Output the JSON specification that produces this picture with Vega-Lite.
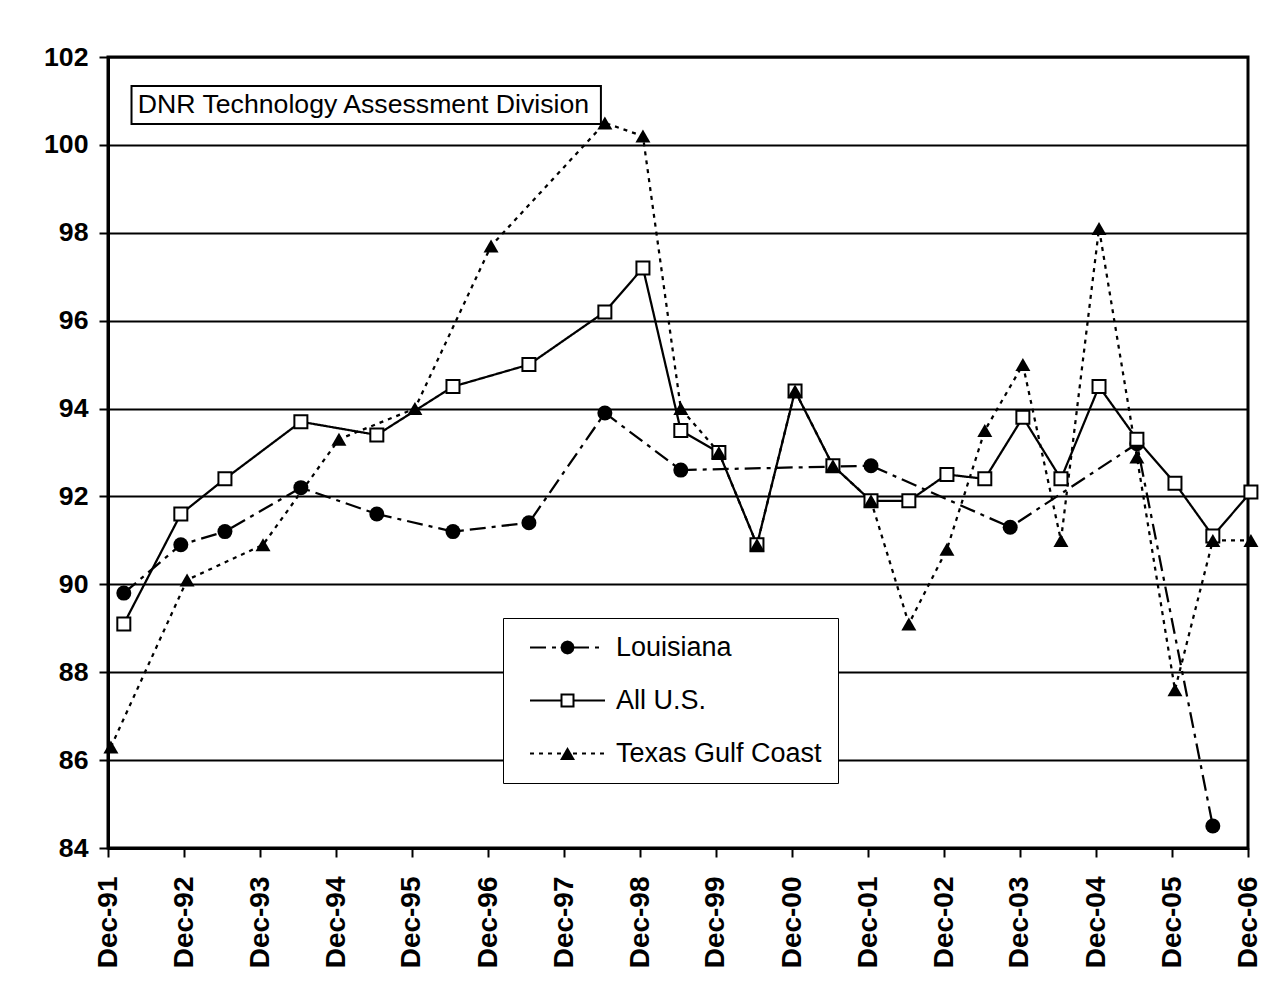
{
  "$schema": "https://vega.github.io/schema/vega-lite/v6.json",
  "width": 1140,
  "height": 791,
  "autosize": {"type": "none"},
  "padding": {"left": 108, "top": 57, "right": 37, "bottom": 145},
  "background": "white",
  "config": {
    "view": {"stroke": "black", "strokeWidth": 3},
    "font": "Liberation Sans",
    "legend": {
      "fillColor": "white",
      "strokeColor": "black",
      "padding": 16,
      "symbolSize": 400,
      "symbolOffset": 35,
      "labelOffset": 35,
      "labelFont": "Liberation Sans",
      "labelFontSize": 27,
      "labelColor": "black",
      "labelLimit": 400,
      "rowPadding": 25,
      "symbolFillColor": "black",
      "symbolStrokeColor": "black",
      "symbolStrokeWidth": 2,
      "symbolOpacity": 1
    }
  },
  "datasets": {
    "main": [
      {"series": "Louisiana", "date": "1992-02-15", "value": 89.8},
      {"series": "Louisiana", "date": "1992-11-15", "value": 90.9},
      {"series": "Louisiana", "date": "1993-06-15", "value": 91.2},
      {"series": "Louisiana", "date": "1994-06-15", "value": 92.2},
      {"series": "Louisiana", "date": "1995-06-15", "value": 91.6},
      {"series": "Louisiana", "date": "1996-06-15", "value": 91.2},
      {"series": "Louisiana", "date": "1997-06-15", "value": 91.4},
      {"series": "Louisiana", "date": "1998-06-15", "value": 93.9},
      {"series": "Louisiana", "date": "1999-06-15", "value": 92.6},
      {"series": "Louisiana", "date": "2001-12-15", "value": 92.7},
      {"series": "Louisiana", "date": "2003-10-15", "value": 91.3},
      {"series": "Louisiana", "date": "2005-06-15", "value": 93.2},
      {"series": "Louisiana", "date": "2006-06-15", "value": 84.5},
      {"series": "All U.S.", "date": "1992-02-15", "value": 89.1},
      {"series": "All U.S.", "date": "1992-11-15", "value": 91.6},
      {"series": "All U.S.", "date": "1993-06-15", "value": 92.4},
      {"series": "All U.S.", "date": "1994-06-15", "value": 93.7},
      {"series": "All U.S.", "date": "1995-06-15", "value": 93.4},
      {"series": "All U.S.", "date": "1996-06-15", "value": 94.5},
      {"series": "All U.S.", "date": "1997-06-15", "value": 95.0},
      {"series": "All U.S.", "date": "1998-06-15", "value": 96.2},
      {"series": "All U.S.", "date": "1998-12-15", "value": 97.2},
      {"series": "All U.S.", "date": "1999-06-15", "value": 93.5},
      {"series": "All U.S.", "date": "1999-12-15", "value": 93.0},
      {"series": "All U.S.", "date": "2000-06-15", "value": 90.9},
      {"series": "All U.S.", "date": "2000-12-15", "value": 94.4},
      {"series": "All U.S.", "date": "2001-06-15", "value": 92.7},
      {"series": "All U.S.", "date": "2001-12-15", "value": 91.9},
      {"series": "All U.S.", "date": "2002-06-15", "value": 91.9},
      {"series": "All U.S.", "date": "2002-12-15", "value": 92.5},
      {"series": "All U.S.", "date": "2003-06-15", "value": 92.4},
      {"series": "All U.S.", "date": "2003-12-15", "value": 93.8},
      {"series": "All U.S.", "date": "2004-06-15", "value": 92.4},
      {"series": "All U.S.", "date": "2004-12-15", "value": 94.5},
      {"series": "All U.S.", "date": "2005-06-15", "value": 93.3},
      {"series": "All U.S.", "date": "2005-12-15", "value": 92.3},
      {"series": "All U.S.", "date": "2006-06-15", "value": 91.1},
      {"series": "All U.S.", "date": "2006-12-15", "value": 92.1},
      {"series": "Texas Gulf Coast", "date": "1991-12-15", "value": 86.3},
      {"series": "Texas Gulf Coast", "date": "1992-12-15", "value": 90.1},
      {"series": "Texas Gulf Coast", "date": "1993-12-15", "value": 90.9},
      {"series": "Texas Gulf Coast", "date": "1994-12-15", "value": 93.3},
      {"series": "Texas Gulf Coast", "date": "1995-12-15", "value": 94.0},
      {"series": "Texas Gulf Coast", "date": "1996-12-15", "value": 97.7},
      {"series": "Texas Gulf Coast", "date": "1998-06-15", "value": 100.5},
      {"series": "Texas Gulf Coast", "date": "1998-12-15", "value": 100.2},
      {"series": "Texas Gulf Coast", "date": "1999-06-15", "value": 94.0},
      {"series": "Texas Gulf Coast", "date": "1999-12-15", "value": 93.0},
      {"series": "Texas Gulf Coast", "date": "2000-06-15", "value": 90.9},
      {"series": "Texas Gulf Coast", "date": "2000-12-15", "value": 94.4},
      {"series": "Texas Gulf Coast", "date": "2001-06-15", "value": 92.7},
      {"series": "Texas Gulf Coast", "date": "2001-12-15", "value": 91.9},
      {"series": "Texas Gulf Coast", "date": "2002-06-15", "value": 89.1},
      {"series": "Texas Gulf Coast", "date": "2002-12-15", "value": 90.8},
      {"series": "Texas Gulf Coast", "date": "2003-06-15", "value": 93.5},
      {"series": "Texas Gulf Coast", "date": "2003-12-15", "value": 95.0},
      {"series": "Texas Gulf Coast", "date": "2004-06-15", "value": 91.0},
      {"series": "Texas Gulf Coast", "date": "2004-12-15", "value": 98.1},
      {"series": "Texas Gulf Coast", "date": "2005-06-15", "value": 92.9},
      {"series": "Texas Gulf Coast", "date": "2005-12-15", "value": 87.6},
      {"series": "Texas Gulf Coast", "date": "2006-06-15", "value": 91.0},
      {"series": "Texas Gulf Coast", "date": "2006-12-15", "value": 91.0}
    ],
    "note": [
      {"note": "DNR Technology Assessment Division"}
    ]
  },
  "layer": [
    {
      "data": {"name": "note"},
      "mark": {"type": "rect", "fill": "white", "stroke": "black", "strokeWidth": 2},
      "encoding": {
        "x": {"datum": {"year": 1992, "month": 3, "date": 23, "utc": true}, "type": "temporal", "scale": {"type": "utc"}},
        "x2": {"datum": {"year": 1998, "month": 5, "date": 27, "utc": true}},
        "y": {"datum": 101.34, "type": "quantitative"},
        "y2": {"datum": 100.475}
      }
    },
    {
      "data": {"name": "note"},
      "mark": {"type": "text", "align": "left", "baseline": "middle", "font": "Liberation Sans", "fontSize": 26.67, "color": "black"},
      "encoding": {
        "x": {"datum": {"year": 1992, "month": 4, "date": 22, "utc": true}, "type": "temporal", "scale": {"type": "utc"}},
        "y": {"datum": 100.91, "type": "quantitative"},
        "text": {"field": "note", "type": "nominal"}
      }
    },
    {
      "data": {"name": "main"},
      "encoding": {
        "x": {
          "field": "date",
          "type": "temporal",
          "title": null,
          "scale": {
            "type": "utc",
            "domain": [
              {"year": 1991, "month": 12, "date": 1, "utc": true},
              {"year": 2006, "month": 12, "date": 1, "utc": true}
            ]
          },
          "axis": {
            "values": [
              {"year": 1991, "month": 12, "date": 1, "utc": true},
              {"year": 1992, "month": 12, "date": 1, "utc": true},
              {"year": 1993, "month": 12, "date": 1, "utc": true},
              {"year": 1994, "month": 12, "date": 1, "utc": true},
              {"year": 1995, "month": 12, "date": 1, "utc": true},
              {"year": 1996, "month": 12, "date": 1, "utc": true},
              {"year": 1997, "month": 12, "date": 1, "utc": true},
              {"year": 1998, "month": 12, "date": 1, "utc": true},
              {"year": 1999, "month": 12, "date": 1, "utc": true},
              {"year": 2000, "month": 12, "date": 1, "utc": true},
              {"year": 2001, "month": 12, "date": 1, "utc": true},
              {"year": 2002, "month": 12, "date": 1, "utc": true},
              {"year": 2003, "month": 12, "date": 1, "utc": true},
              {"year": 2004, "month": 12, "date": 1, "utc": true},
              {"year": 2005, "month": 12, "date": 1, "utc": true},
              {"year": 2006, "month": 12, "date": 1, "utc": true}
            ],
            "format": "%b-%y",
            "grid": false,
            "labelAngle": 270,
            "labelFont": "Liberation Sans",
            "labelFontSize": 28,
            "labelFontWeight": "bold",
            "labelColor": "black",
            "labelPadding": 19,
            "labelOverlap": false,
            "labelFlush": false,
            "tickColor": "black",
            "tickSize": 9,
            "tickWidth": 2,
            "domainColor": "black",
            "domainWidth": 3
          }
        },
        "y": {
          "field": "value",
          "type": "quantitative",
          "title": null,
          "scale": {"domain": [84, 102], "nice": false, "zero": false},
          "axis": {
            "values": [84, 86, 88, 90, 92, 94, 96, 98, 100, 102],
            "grid": true,
            "gridColor": "black",
            "gridWidth": 2,
            "gridOpacity": 1,
            "labelFont": "Liberation Sans",
            "labelFontSize": 26.67,
            "labelFontWeight": "bold",
            "labelColor": "black",
            "labelPadding": 11,
            "labelFlush": false,
            "tickColor": "black",
            "tickSize": 9,
            "tickWidth": 2,
            "domainColor": "black",
            "domainWidth": 3
          }
        }
      },
      "layer": [
        {
          "mark": {"type": "line", "color": "black", "strokeWidth": 2.25},
          "encoding": {
            "strokeDash": {
              "field": "series",
              "type": "nominal",
              "sort": ["Louisiana", "All U.S.", "Texas Gulf Coast"],
              "scale": {
                "range": [[16, 6, 4, 6], [1, 0], [4, 5]]
              },
              "legend": {
                "title": null,
                "orient": "none",
                "legendX": 395,
                "legendY": 561,
                "symbolType": "M-3.75,0L-0.55,0M0.55,0L3.75,0",
                "symbolStrokeColor": "black",
                "symbolStrokeWidth": 2
              }
            }
          }
        },
        {
          "mark": {"type": "point", "filled": true, "color": "black", "opacity": 0},
          "encoding": {
            "shape": {
              "field": "series",
              "type": "nominal",
              "scale": {
                "domain": ["Louisiana", "All U.S.", "Texas Gulf Coast"],
                "range": [
                  "M0.7,0L0.606,0.35L0.35,0.606L0,0.7L-0.35,0.606L-0.606,0.35L-0.7,0L-0.606,-0.35L-0.35,-0.606L0,-0.7L0.35,-0.606L0.606,-0.35Z",
                  "M-0.7,-0.7L0.7,-0.7L0.7,0.7L-0.7,0.7ZM-0.5,-0.5L-0.5,0.5L0.5,0.5L0.5,-0.5Z",
                  "M0,-0.65L0.75,0.65L-0.75,0.65Z"
                ]
              },
              "legend": {
                "title": null,
                "orient": "none",
                "legendX": 395,
                "legendY": 561,
                "fillColor": "transparent",
                "strokeColor": "transparent",
                "labelColor": "transparent",
                "symbolFillColor": "black",
                "symbolStrokeColor": "transparent"
              }
            }
          }
        },
        {
          "transform": [{"filter": "datum.series === 'Louisiana'"}],
          "mark": {"type": "point", "shape": "circle", "filled": true, "fill": "black", "strokeWidth": 0, "size": 225, "opacity": 1}
        },
        {
          "transform": [{"filter": "datum.series === 'All U.S.'"}],
          "mark": {"type": "point", "shape": "square", "filled": true, "fill": "white", "stroke": "black", "strokeWidth": 2, "size": 169, "opacity": 1}
        },
        {
          "transform": [{"filter": "datum.series === 'Texas Gulf Coast'"}],
          "mark": {"type": "point", "shape": "triangle-up", "filled": true, "fill": "black", "strokeWidth": 0, "size": 225, "opacity": 1}
        }
      ]
    }
  ]
}
